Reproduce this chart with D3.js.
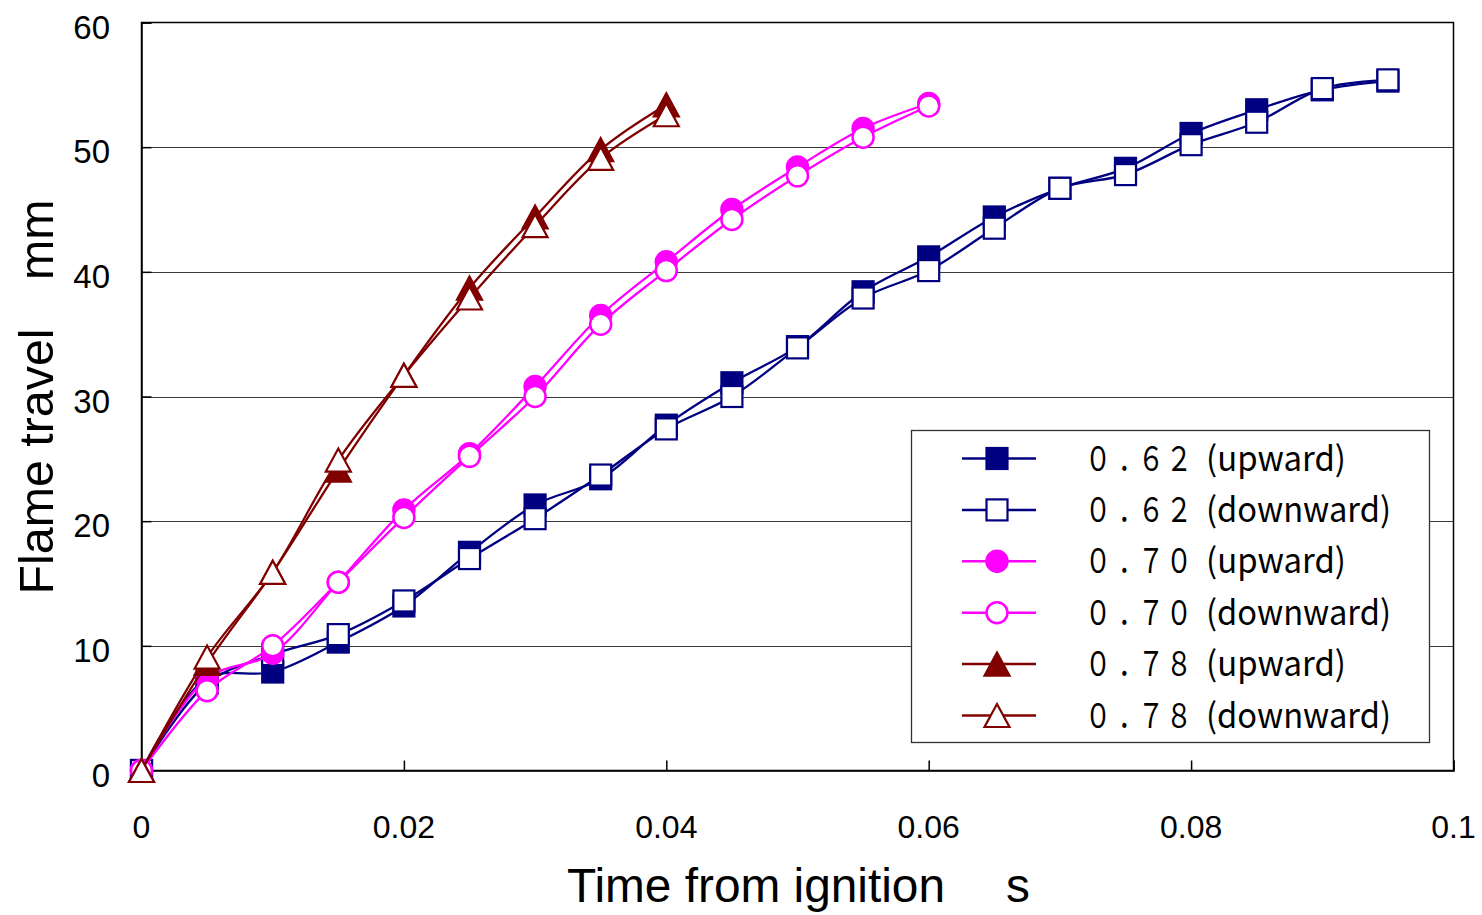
<!DOCTYPE html>
<html>
<head>
<meta charset="utf-8">
<script src="https://cdn.jsdelivr.net/npm/d3@7"></script>
<style>
  html, body { margin: 0; padding: 0; background: #fff; }
  svg { display: block; }
</style>
</head>
<body>
<svg id="chart" width="1482" height="915"></svg>
<script>
// ---- data ----
const time62 = [0,0.005,0.01,0.015,0.02,0.025,0.03,0.035,0.04,0.045,0.05,0.055,0.06,0.065,0.07,0.075,0.08,0.085,0.09,0.095];
const up62   = [0,7.4,7.9,10.3,13.2,17.5,21.3,23.4,27.7,31.1,34.0,38.4,41.2,44.4,46.7,48.3,51.1,53.0,54.6,55.3];
const down62 = [0,7.0,9.3,10.9,13.6,17.0,20.2,23.7,27.4,30.0,33.9,37.9,40.1,43.5,46.7,47.8,50.2,52.0,54.7,55.4];
const time70 = [0,0.005,0.01,0.015,0.02,0.025,0.03,0.035,0.04,0.045,0.05,0.055,0.06];
const up70   = [0,7.4,9.4,15.1,20.9,25.4,30.8,36.5,40.8,45.0,48.4,51.5,53.5];
const down70 = [0,6.4,10.0,15.1,20.3,25.2,30.0,35.8,40.1,44.2,47.7,50.8,53.3];
const time78 = [0,0.005,0.01,0.015,0.02,0.025,0.03,0.035,0.04];
const up78   = [0,8.6,15.9,24.1,31.7,38.7,44.4,49.8,53.4];
const down78 = [0,9.1,15.9,24.9,31.7,37.9,43.7,49.1,52.6];

const legendRatio = ["０．６２","０．６２","０．７０","０．７０","０．７８","０．７８"];
const legendDir   = ["(upward)","(downward)","(upward)","(downward)","(upward)","(downward)"];
const xTicks = [0,0.02,0.04,0.06,0.08,0.1];
const xTickLabels = ["0","0.02","0.04","0.06","0.08","0.1"];
const yTicks = [0,10,20,30,40,50,60];
const yTickLabels = ["0","10","20","30","40","50","60"];
const xTitle = "Time from ignition\u3000 s";
const yTitle = "Flame travel\u3000mm";

const series = [
  {t: time62, v: up62,   color: "#000080", shape: "square",   filled: true},
  {t: time62, v: down62, color: "#000080", shape: "square",   filled: false},
  {t: time70, v: up70,   color: "#FF00FF", shape: "circle",   filled: true},
  {t: time70, v: down70, color: "#FF00FF", shape: "circle",   filled: false},
  {t: time78, v: up78,   color: "#800000", shape: "triangle", filled: true},
  {t: time78, v: down78, color: "#800000", shape: "triangle", filled: false}
];

// ---- layout ----
const L = 141.5, R = 1453.5, T = 22.5, B = 770.5;
const x = d3.scaleLinear().domain([0, 0.1]).range([L, R]);
const y = d3.scaleLinear().domain([0, 60]).range([B, T]);

const svg = d3.select("#chart");
const latin = "'Liberation Sans', Arial, sans-serif";
const cjk = "'Noto Sans CJK JP', 'Noto Sans', sans-serif";

// gridlines
svg.append("g").selectAll("line").data(yTicks.filter(d => d > 0 && d < 60)).join("line")
  .attr("x1", L).attr("x2", R)
  .attr("y1", d => Math.round(y(d)) + 0.5).attr("y2", d => Math.round(y(d)) + 0.5)
  .attr("stroke", "#3a3a3a").attr("stroke-width", 1.2);

// frame
svg.append("rect").attr("x", L).attr("y", T).attr("width", R - L).attr("height", B - T)
  .attr("fill", "none").attr("stroke", "#000").attr("stroke-width", 1.5);

// axes with inside ticks
const yAxis = d3.axisLeft(y).tickValues(yTicks).tickSize(-10).tickFormat("");
svg.append("g").attr("transform", `translate(${L},0)`).call(yAxis)
  .call(g => g.selectAll("line").attr("stroke", "#000").attr("stroke-width", 1.5))
  .call(g => g.select(".domain").attr("stroke", "#000").attr("stroke-width", 1.5));
const xAxis = d3.axisBottom(x).tickValues(xTicks).tickSize(-10).tickFormat("");
svg.append("g").attr("transform", `translate(0,${B})`).call(xAxis)
  .call(g => g.selectAll("line").attr("stroke", "#000").attr("stroke-width", 1.5))
  .call(g => g.select(".domain").attr("stroke", "#000").attr("stroke-width", 1.5));

// tick labels
svg.append("g").selectAll("text").data(yTicks).join("text")
  .attr("x", 110).attr("y", d => y(d) + 16)
  .attr("text-anchor", "end").attr("font-family", latin).attr("font-size", 33)
  .text((d, i) => yTickLabels[i]);
svg.append("g").selectAll("text").data(xTicks).join("text")
  .attr("x", d => x(d)).attr("y", 838)
  .attr("text-anchor", "middle").attr("font-family", latin).attr("font-size", 32)
  .text((d, i) => xTickLabels[i]);

// titles
svg.append("text").attr("x", 798.5).attr("y", 902)
  .attr("text-anchor", "middle").attr("font-family", latin).attr("font-size", 48)
  .attr("textLength", 463).attr("lengthAdjust", "spacingAndGlyphs")
  .text(xTitle);
svg.append("text").attr("transform", "translate(53,397) rotate(-90)")
  .attr("text-anchor", "middle").attr("font-family", latin).attr("font-size", 48)
  .attr("textLength", 395).attr("lengthAdjust", "spacingAndGlyphs")
  .text(yTitle);

// marker drawer
function marker(g, shape, filled, color, cx, cy) {
  const fill = filled ? color : "#fff";
  if (shape === "square") {
    g.append("rect").attr("x", cx - 10.5).attr("y", cy - 10.5).attr("width", 21).attr("height", 21)
      .attr("fill", fill).attr("stroke", color).attr("stroke-width", 2.2);
  } else if (shape === "circle") {
    g.append("circle").attr("cx", cx).attr("cy", cy).attr("r", 10.5)
      .attr("fill", fill).attr("stroke", color).attr("stroke-width", 2.5);
  } else {
    const w = 12.5, h = 11.5;
    g.append("path").attr("d", `M${cx},${cy - h}L${cx + w},${cy + h}L${cx - w},${cy + h}Z`)
      .attr("fill", fill).attr("stroke", color).attr("stroke-width", 2.2).attr("stroke-linejoin", "miter");
  }
}

const line = d3.line().x(d => x(d[0])).y(d => y(d[1])).curve(d3.curveCatmullRom.alpha(0.5));

const plot = svg.append("g");
series.forEach(s => {
  const pts = s.t.map((t, i) => [t, s.v[i]]);
  const g = plot.append("g");
  g.append("path").attr("d", line(pts)).attr("fill", "none")
    .attr("stroke", s.color).attr("stroke-width", 2.3);
  pts.forEach(p => marker(g, s.shape, s.filled, s.color, x(p[0]), y(p[1])));
});

// legend
const lg = svg.append("g");
lg.append("rect").attr("x", 911.5).attr("y", 430.5).attr("width", 518).attr("height", 312)
  .attr("fill", "#fff").attr("stroke", "#333").attr("stroke-width", 1.3);
const sx = 0.78;
const charLeft = [1084.7, 1118, 1137.7, 1165.7];
series.forEach((s, i) => {
  const cy = 458.5 + i * 51.4;
  lg.append("line").attr("x1", 962).attr("x2", 1036).attr("y1", cy).attr("y2", cy)
    .attr("stroke", s.color).attr("stroke-width", 2.5);
  marker(lg, s.shape, s.filled, s.color, 997, cy);
  lg.append("text").attr("transform", `translate(0,${cy + 12}) scale(${sx},1)`)
    .attr("x", charLeft.map(p => (p / sx).toFixed(1)).join(" ")).attr("y", 0)
    .attr("font-family", cjk).attr("font-size", 34)
    .text(legendRatio[i]);
  lg.append("text").attr("x", 1206).attr("y", cy + 12)
    .attr("font-family", cjk).attr("font-size", 34)
    .attr("textLength", legendDir[i] === "(upward)" ? 140 : 185).attr("lengthAdjust", "spacingAndGlyphs")
    .text(legendDir[i]);
});
</script>
</body>
</html>
